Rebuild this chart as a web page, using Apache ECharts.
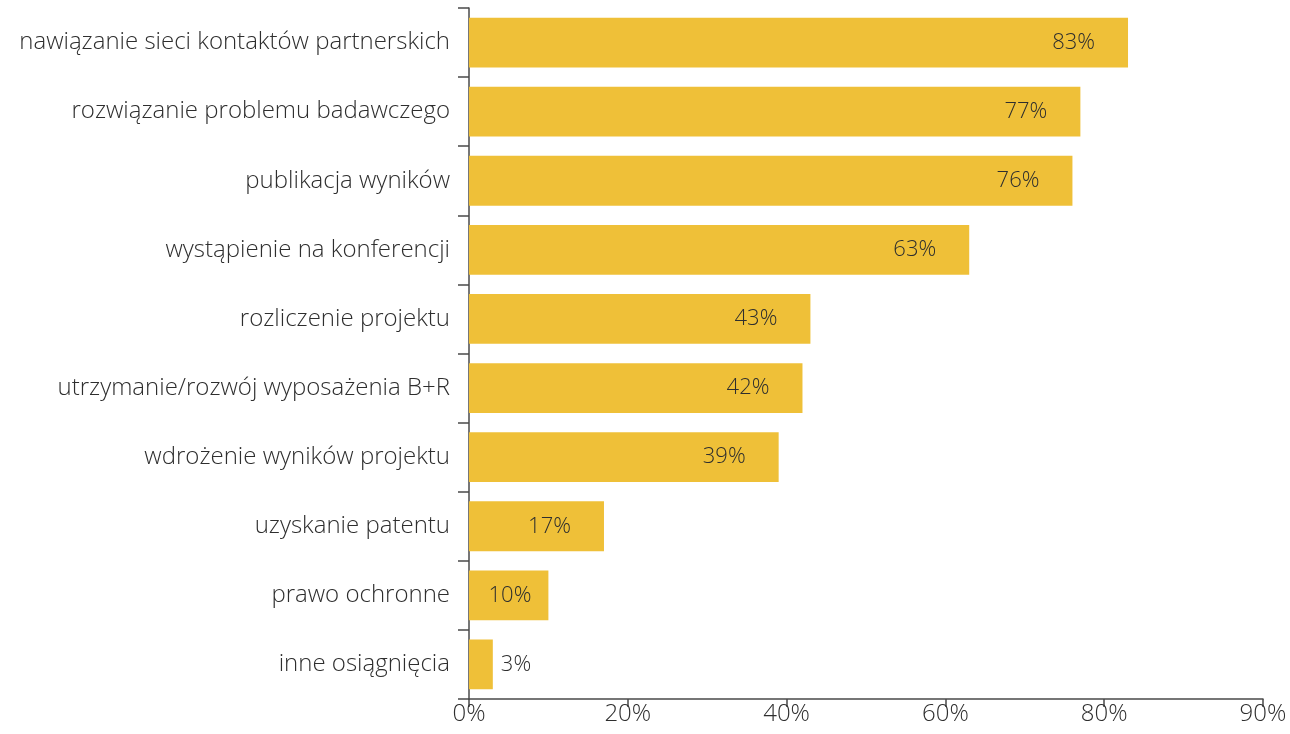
<!DOCTYPE html>
<html>
<head>
<meta charset="utf-8">
<script src="https://cdn.jsdelivr.net/npm/echarts@6/dist/echarts.min.js"></script>
<style>
  html, body { margin: 0; padding: 0; background: #fff; }
  #chart { width: 1290px; height: 734px; }
</style>
</head>
<body>
<div id="chart"></div>
<script>
// Categories, top to bottom
const categories = [
  'nawiązanie sieci kontaktów partnerskich',
  'rozwiązanie problemu badawczego',
  'publikacja wyników',
  'wystąpienie na konferencji',
  'rozliczenie projektu',
  'utrzymanie/rozwój wyposażenia B+R',
  'wdrożenie wyników projektu',
  'uzyskanie patentu',
  'prawo ochronne',
  'inne osiągnięcia'
];
// Share of respondents, %
const values = [83, 77, 76, 63, 43, 42, 39, 17, 10, 3];
// Tick labels along the value axis (printed as in the source chart)
const tickLabels = ['0%', '20%', '40%', '60%', '80%', '90%'];

const FONT = '"Open Sans", Lato, sans-serif';
const TEXT = '#2e2e2e';
const AXIS = '#4a4a4a';
const BAR = '#EFC038';

function labelFor(v) {
  if (v < 5) return { position: 'right', distance: 8 };
  if (v < 15) return { position: 'insideRight', distance: 17 };
  return { position: 'insideRight', distance: 33 };
}

const chart = echarts.init(document.getElementById('chart'), null, { renderer: 'canvas' });
chart.setOption({
  animation: false,
  grid: { left: 469, right: 27, top: 8, bottom: 35, containLabel: false },
  xAxis: {
    type: 'value',
    min: 0,
    max: 100,
    interval: 20,
    splitLine: { show: false },
    axisLine: { show: true, lineStyle: { color: AXIS, width: 1.5 } },
    axisTick: { show: true, length: 8, lineStyle: { color: AXIS, width: 1.5 } },
    axisLabel: {
      color: TEXT,
      fontFamily: FONT,
      fontWeight: 300,
      fontSize: 24,
      margin: 3,
      formatter: (v) => tickLabels[Math.round(v / 20)]
    }
  },
  yAxis: {
    type: 'category',
    inverse: true,
    data: categories,
    axisLine: { show: true, lineStyle: { color: AXIS, width: 1.5 } },
    axisTick: { show: true, length: 11, alignWithLabel: false, lineStyle: { color: AXIS, width: 1.5 } },
    axisLabel: {
      color: TEXT,
      fontFamily: FONT,
      fontWeight: 300,
      fontSize: 24,
      margin: 19
    }
  },
  series: [{
    type: 'bar',
    barCategoryGap: '28%',
    itemStyle: { color: BAR },
    data: values.map((v) => ({ value: v, label: labelFor(v) })),
    label: {
      show: true,
      color: TEXT,
      fontFamily: FONT,
      fontWeight: 300,
      fontSize: 22,
      formatter: (p) => p.value + '%'
    }
  }]
});
</script>
</body>
</html>
